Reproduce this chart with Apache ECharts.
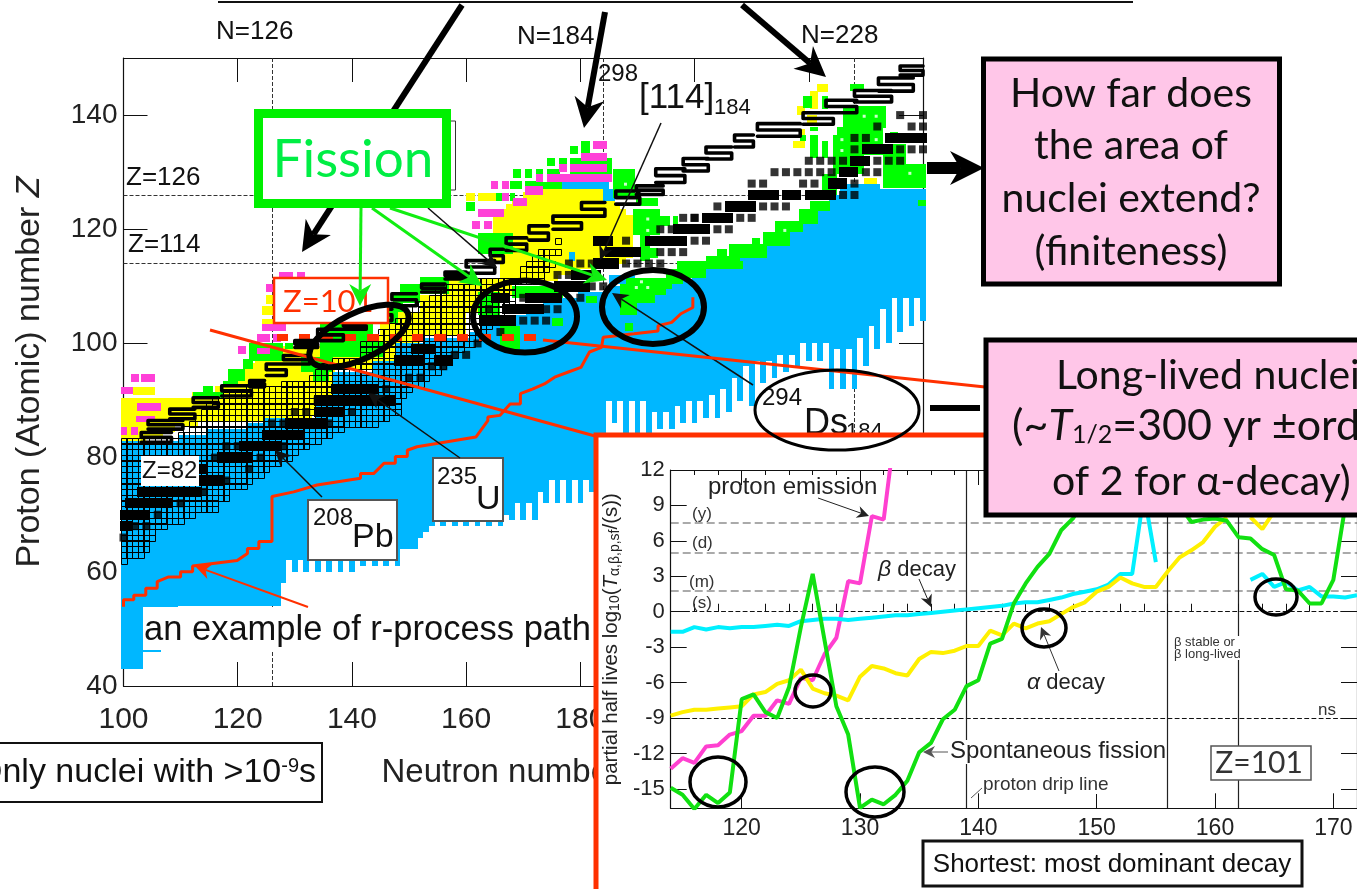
<!DOCTYPE html>
<html>
<head>
<meta charset="utf-8">
<title>Nuclear chart</title>
<style>
html, body { margin: 0; padding: 0; background: #fff; overflow: hidden; }
#chart { width: 1357px; height: 889px; }
</style>
<script src="https://cdn.jsdelivr.net/npm/echarts@6/dist/echarts.min.js"></script>
</head>
<body>
<div id="chart"></div>
<script>
// main chart: blue columns, one value per N from 100 to 240
var blueStartN = 100
var blueLow = [
  43, 43, 43, 43, 46, 46, 46, 48, 50, 52,
  54, 54, 54, 54, 54, 54, 54, 54, 54, 54,
  54, 54, 54, 54, 54, 54, 54, 54, 58, 62,
  60, 62, 60, 62, 60, 62, 60, 62, 60, 62,
  60, 62, 61, 62, 61, 63, 61, 63, 61, 64,
  64, 64, 66, 67, 68, 70, 68, 70, 68, 70,
  68, 70, 68, 70, 68, 70, 68, 70, 69, 72,
  69, 72, 69, 74, 72, 76, 72, 76, 72, 76,
  72, 76, 74, 78, 78, 90, 86, 90, 80, 90,
  80, 90, 84, 88, 85, 88, 85, 89, 86, 90,
  86, 90, 87, 91, 87, 92, 88, 94, 90, 96,
  89, 97, 93, 97, 94, 98, 95, 98, 96, 100,
  97, 100, 97, 100, 92, 99, 92, 99, 92, 101,
  96, 103, 99, 106, 100, 108, 102, 108, 103, 108,
  104
]
var blueTop = [
  83, 83, 83, 83, 83, 83, 83, 83, 83, 83,
  84, 84, 84, 84, 84, 85, 85, 85, 85, 85,
  85, 85, 86, 86, 86, 87, 87, 87, 87, 87,
  87, 87, 87, 87, 90, 90, 90, 95, 95, 95,
  95, 95, 95, 95, 97, 97, 97, 97, 100, 100,
  100, 100, 100, 101, 101, 101, 101, 101, 101, 101,
  101, 102, 102, 103, 103, 104, 104, 104, 105, 105,
  105, 106, 106, 106, 107, 107, 107, 108, 108, 108,
  109, 109, 109, 109, 109, 110, 110, 110, 110, 110,
  110, 110, 110, 110, 110, 110, 111, 111, 111, 111,
  112, 112, 113, 113, 114, 114, 115, 115, 116, 116,
  116, 117, 117, 118, 118, 119, 119, 120, 120, 121,
  122, 123, 124, 125, 126, 126, 127, 128, 128, 128,
  128, 128, 128, 127, 127, 127, 127, 127, 127, 127,
  127
]
// coloured patches as [N from, N to, Z from, Z to]
var bluePatches = [[176, 185, 127, 128.4], [184, 186, 125, 127], [178, 179, 114.5, 116], [185, 189.5, 110.5, 112]]
var yellowPatches = [
  [99.5, 104, 82.5, 83.5], [99.5, 107, 83.5, 84.5], [99.5, 109, 84.5, 85.5], [99.5, 113, 85.5, 86.5],
  [99.5, 133, 86.5, 87.5], [99.5, 134, 87.5, 88.5], [99.5, 134, 88.5, 89.5], [99.5, 136, 89.5, 90.5],
  [112, 137, 90.5, 91.5], [101.7, 105.5, 91, 92.4], [116, 137, 91.5, 92.5], [118, 137, 92.5, 93.5],
  [120, 137, 93.5, 94.5], [121, 137, 94.5, 95.5], [122, 148, 95.5, 96.5], [123, 148, 96.5, 97.5],
  [124, 148, 97.5, 98.5], [128, 148, 98.5, 99.5], [140, 152, 99.5, 101.5], [145, 160, 101.5, 105.5],
  [152, 166, 105.5, 108.5], [156, 168, 108.5, 111.5],
  [124.3, 126.2, 105, 106.6], [124.3, 126.2, 103.4, 104.3], [125, 126.2, 106.9, 108.4],
  [172, 184, 126.5, 127.5], [170, 185, 125.5, 126.5], [168, 186, 124.5, 125.5], [167, 187, 123.5, 124.5],
  [166, 188, 122.5, 123.5], [164.7, 189.3, 115, 122.5], [164.7, 188, 114, 115], [166, 186, 113, 114],
  [166, 180, 112, 113], [166, 176, 111, 112], [160, 161.5, 125, 126.4], [162.1, 165.2, 125, 126.4],
  [221.4, 223.4, 144, 145.4], [220.2, 221.7, 141, 144.2], [218, 219.4, 140.1, 141.6], [219.6, 221.4, 138.7, 140],
  [217.3, 219.4, 134.2, 135.5], [218.5, 219.4, 136.6, 137.5], [229.6, 232, 127.6, 129], [228.7, 229.9, 138.4, 139.5]
]
var greenPatches = [
  [195, 202, 111.5, 113], [197, 208.5, 113, 114.5], [202, 208, 114.5, 115.4], [204, 205.6, 115, 116.5],
  [206, 212.6, 115, 117.4], [210, 211.5, 117, 118.5], [212, 216.7, 117, 119.6], [214, 219, 119.6, 121.5],
  [218.2, 221.7, 121, 123.5], [220.2, 223.7, 123.2, 125],
  [227.2, 229.6, 144.2, 145.4], [219, 220.5, 141.3, 143.3], [222.3, 223.4, 141, 143.3], [226, 233.6, 137.8, 141.6],
  [220.2, 221.7, 137.2, 138], [220.2, 221.7, 132.5, 136.6], [222.3, 223.4, 132.5, 135.4], [224.3, 229.6, 129.6, 136.6],
  [218.5, 219.5, 135.5, 136.5], [234.2, 235.7, 136, 137], [233, 237, 129.6, 135], [237, 240.6, 127.3, 131.4],
  [233, 237, 127.3, 129.6], [239.2, 240.6, 124, 125.2], [222.3, 224.9, 126, 129.6], [225, 233, 133, 138],
  [178.2, 179.6, 133.1, 134.6], [180.2, 181.7, 133.4, 135.5], [174.2, 175.5, 131, 132.4], [176.3, 177.7, 131.4, 132.4],
  [178.2, 185.5, 129.6, 132.4], [168.2, 169.6, 129, 130.5], [170.3, 171.6, 129, 130.5], [172.2, 173.5, 129.6, 130.5],
  [174.2, 176.4, 129.6, 130.5], [167.7, 169.7, 127.1, 128.5], [170.3, 173.5, 127.5, 128.5], [173.5, 176.7, 127.1, 128.2],
  [185.8, 189.6, 125.5, 130.5], [165.2, 166.2, 125, 126.4], [167.7, 168.5, 125, 126.4], [160, 161.5, 123.2, 124.7],
  [162, 168.2, 115.6, 119.4], [189.8, 193.6, 124.1, 125.5], [189.3, 194, 119, 123.5], [193.9, 195.7, 120.6, 122.3],
  [196.3, 197.1, 121, 122.3], [190.4, 192.2, 114.5, 119], [192.2, 193.6, 115, 116.8],
  [188, 198, 110.5, 111.5], [187, 196, 109.5, 110.5], [187, 195, 108.5, 109.5], [187, 193, 107, 108.5],
  [187, 190, 105, 107], [187.8, 189.2, 102.2, 103.6],
  [162, 166, 105, 109], [168, 177, 108, 110], [166, 169.5, 99, 103], [175, 177, 103, 104.5], [181, 183, 107, 108.3],
  [152, 157, 110.5, 111.6], [148.4, 157, 108.7, 110.5], [147.2, 152, 107, 109], [146, 149, 105.5, 107], [144, 148, 103.5, 105.5],
  [134.4, 143.7, 97.6, 103.4], [141, 145.5, 97.6, 100.5], [128.2, 129.7, 99, 100], [131, 136.7, 95, 97.6],
  [133.2, 136, 93.2, 95], [122, 128, 97, 100], [121, 122.7, 95.5, 97.2], [118.3, 121.2, 93.5, 95.5],
  [114, 115.7, 91.5, 92.5], [112.2, 117.4, 90.5, 91.5], [117.4, 120, 92.4, 93.5]
]
var pinkPatches = [
  [182.2, 184.6, 134, 135.5], [180.2, 184.6, 132, 133.4], [176.3, 177.7, 130, 131.4], [178.2, 184.6, 130, 131.4],
  [174.2, 185.5, 128.2, 129.6], [172.2, 173.5, 128.2, 129.6], [164.3, 165.6, 127.1, 128.5], [166.2, 167.5, 127.1, 128.5],
  [170.3, 173.5, 126, 127.5], [166.2, 167.5, 125, 126.4], [168.2, 170.6, 124, 125.4], [162.1, 166.6, 122.2, 123.5],
  [161.1, 162.5, 120, 121.5], [163.2, 164.6, 120, 121.5],
  [127.2, 129.7, 111.6, 112.5], [130.3, 131.7, 111.6, 112.5], [125, 126.2, 109, 110.4], [124.3, 128.5, 102.2, 103.4],
  [123.3, 125.6, 100.2, 101.6], [126.2, 127.6, 100.2, 101.6], [123.3, 125.6, 98.2, 99.2], [120, 121.5, 98.1, 99.6],
  [101.4, 102.7, 93.2, 94.6], [103.1, 105.5, 93.2, 94.6], [99.5, 101.7, 91.1, 92.4], [102.3, 106.6, 88.1, 89.5],
  [102.2, 105.5, 86.2, 87.3], [99.5, 100.6, 84, 85.4], [101.4, 102.6, 84, 85.4]
]
// black squares: runs as [Z, N from, N to], single squares as [N, Z]
var magicRuns = [
  [136, 234, 240], [134, 230, 234], [132, 228, 230], [130, 226, 228], [128, 224, 226], [126, 222, 224],
  [126, 220, 221], [126, 216, 218], [126, 210, 214], [124, 206, 210],
  [122, 202, 206], [120, 197, 202], [118, 192, 198], [118, 183, 185], [116, 185, 190], [114, 183, 186],
  [112, 179, 183], [110, 176, 181], [108, 171, 176], [106, 167, 173],
  [108, 165, 167], [104, 163, 168], [97, 148, 152], [97, 155, 157], [99, 151, 154], [92, 137, 144], [90, 134, 137], [90, 142, 147],
  [68, 100, 101], [70, 100, 104], [72, 101, 108], [74, 103, 113], [76, 113, 117], [78, 113, 114], [80, 117, 122],
  [82, 121, 127], [84, 125, 131], [86, 129, 135], [88, 134, 138], [90, 138, 144]
]
var stableDots = [
  [236, 140], [240, 140], [240, 138], [232, 138], [238, 138], [228, 136], [230, 136], [228, 134], [236, 134], [238, 134], [240, 134],
  [220, 132], [222, 132], [224, 132], [226, 132], [232, 132], [234, 132], [236, 132], [214, 130], [216, 130], [218, 130],
  [220, 130], [222, 130], [224, 130], [230, 130], [232, 130], [210, 128], [212, 128], [219, 128], [221, 128], [228, 128], [226, 126],
  [228, 126], [212, 124], [214, 124], [216, 124], [204, 124], [208, 122], [210, 122], [200, 122], [204, 120], [206, 120],
  [200, 118], [202, 118], [198, 122], [200, 122], [194, 120], [196, 120], [194, 116], [196, 116], [198, 116], [188, 118],
  [188, 114], [190, 114], [192, 114], [194, 114], [176, 112], [178, 112], [180, 114], [182, 114], [178, 114], [182, 110],
  [184, 110], [180, 108], [174, 106], [176, 106], [170, 104], [172, 104], [174, 104], [166, 102], [164, 106],
  [170, 108], [160, 98], [158, 98], [162, 100], [156, 96], [154, 96], [152, 94], [150, 94],
  [100, 66], [102, 68], [104, 68], [106, 70], [102, 72], [110, 72], [104, 74], [106, 74], [114, 74], [118, 76], [114, 78],
  [122, 78], [116, 80], [124, 80], [118, 82], [120, 82], [128, 82], [126, 86], [128, 86], [136, 86], [130, 88], [132, 88],
  [138, 88], [140, 88], [134, 90], [142, 90], [138, 92], [146, 92]
]
var whiteDots = [
  [229.7, 139.8], [231.8, 139.8], [225.8, 135.7], [231.8, 135.7], [225.8, 133.8], [215.8, 119.8], [237.7, 129.8],
  [187.9, 127.9], [191.8, 121.8], [191.8, 119.8], [190.7, 110.8], [189.8, 109.8], [191.8, 109.8]
]
// open cells as [Z, N from, N to]
var openRows = [
  [62, 100, 100], [63, 100, 103], [64, 100, 104], [65, 100, 104], [66, 100, 105], [67, 100, 105], [68, 100, 107], [69, 100, 110],
  [70, 100, 112], [71, 100, 116], [72, 100, 116], [73, 100, 118], [74, 100, 118], [75, 100, 121], [76, 100, 122], [77, 100, 124],
  [78, 100, 125], [79, 100, 127], [80, 100, 129], [81, 100, 130], [82, 100, 132], [83, 100, 134], [84, 110, 136], [85, 111, 138],
  [86, 112, 144], [87, 113, 146], [88, 114, 148], [89, 115, 148], [90, 116, 148], [91, 118, 149], [92, 122, 150], [93, 128, 152],
  [94, 133, 153], [95, 134, 155], [96, 135, 156], [97, 137, 157], [98, 142, 158], [99, 142, 159], [100, 142, 161], [101, 144, 162],
  [102, 145, 163], [103, 147, 164], [104, 148, 165], [105, 150, 166], [106, 151, 167], [107, 152, 168], [108, 154, 168],
  [109, 155, 168], [110, 157, 168], [111, 161, 168], [118, 176, 176], [116, 173, 176], [115, 172, 174], [114, 171, 175],
  [113, 170, 174], [112, 170, 173], [111, 169, 173]
]
// Z=101 isotope row, dash centres
var z101Dashes = [127.8, 131.7, 135.6, 139.7, 143.7, 147.7, 151.5, 155.4, 159.4, 163.3, 167.3, 171.2]
// proton drip line blocks [N from, N to, Z low, Z high]
var dripBlocks = [
  [103.1, 108.4, 82.7, 84.4], [104.3, 110.4, 85, 86.5], [108.1, 112.5, 86.8, 88.5], [112.2, 116.6, 88.8, 90.5],
  [117.2, 122.4, 90.8, 92.6], [122.1, 124.7, 92.4, 93.5], [125, 128.5, 94.4, 96.4], [128, 132.6, 96.4, 97.9],
  [130, 134, 99.3, 100.5], [134, 138.5, 100.5, 102.5], [138.5, 142.5, 102.5, 103.7], [142.5, 147, 104, 106],
  [147, 151.3, 106.6, 108.7], [152.2, 156.3, 109, 110.4], [156.3, 160, 111.3, 112.5], [160, 165, 112.3, 114.5],
  [164.2, 166.5, 114.2, 116.5], [167, 170.6, 116.3, 118.5], [171, 174.4, 118.1, 120.6], [175.2, 180.2, 120, 122.3],
  [180.2, 184.3, 122.3, 124.7], [186.2, 190.4, 124.4, 126.7], [189.8, 194.5, 126.1, 127.6], [193.2, 198.3, 128.2, 130.6],
  [198, 202.4, 130.2, 132.4], [202, 206.5, 132.3, 134.4], [207, 210.3, 134.4, 136.5], [211, 218.5, 136.3, 138.5],
  [219, 224.3, 138.4, 140.4], [223, 228.4, 140.4, 142.6], [228, 234.5, 142.3, 144.3], [232.2, 238.3, 144.2, 146.5],
  [236, 240, 147, 148.6]
]
// r-process path
var rPathN = [100, 100, 101.8, 101.8, 103.9, 103.9, 105.9, 105.9, 107.9, 110, 110, 112.1, 112.1, 119.9, 121.7, 121.7, 123.7, 123.7, 126, 126,
  129.8, 133.9, 141.5, 141.5, 143.8, 145.6, 147.6, 147.6, 149.7, 149.7, 151.4, 161.7, 163.8, 163.8, 165.9, 167.7, 169.5, 169.5, 171.6,
  173.7, 175.5, 177.9, 180.1, 181.6, 183.7, 184, 189.4, 193.6, 193.6, 196, 197.6, 199.7, 199.7]
var rPathZ = [53.9, 55.1, 55.1, 55.9, 55.9, 57.1, 57.1, 58.3, 59.1, 59.1, 60, 60, 61, 62, 63.2, 64.1, 64.1, 65.3, 65.3, 73.2,
  74, 75.2, 76.4, 77.2, 77.2, 79, 79, 80.2, 80.2, 81.3, 81.9, 83.6, 86.5, 87.1, 87.4, 89.4, 89.4, 91.2, 92,
  92.9, 94.1, 95, 95.8, 98.5, 99.3, 101.1, 101.7, 102.2, 103.1, 103.7, 105.2, 106.3, 108.1]
var magicN = [126, 184, 228]
var magicZ = [114, 126]

// inset: half lives for Z=101
var insetN = [114, 115, 116, 117, 118, 119, 120, 121, 122, 123, 124, 125, 126, 127, 128, 129, 130, 131, 132, 133, 134, 135, 136, 137,
  138, 139, 140, 141, 142, 143, 144, 145, 146, 147, 148, 149, 150, 151, 152, 153, 154, 155, 156, 157, 158, 159, 160, 161, 162, 163,
  164, 165, 166, 167, 168, 169, 170, 171, 172]
var fissionLife = [-14.9, -15.5, -16.7, -15.5, -16.2, -15.3, -7.4, -7, -8.5, -9,
  -6.4, -1.3, 3.2, -2.4, -8, -10.4, -16.6, -15.9, -16.3, -15.5,
  -14.3, -11.9, -11.1, -9.1, -8.3, -6.3, -5.8, -2.7, -2.3, 0.7,
  2.4, 3.8, 4.9, 6.9, 7.9, 9.5, null, null, null, null,
  null, null, null, 9, 7.6, 7.8, 7.9, 7.7, 6.3, 6.2,
  5.3, 4.8, 1.9, 1.8, 0.7, 0.7, 2.7, 8.9, 12]
var alphaLife = [-8.8, -8.5, -8.3, -8.3, -8.2, -8.1, -8, -7, -6.8, -6.1,
  -5.8, -4.9, -6.5, -6.9, -7.1, -7.5, -5.5, -4.6, -4.8, -5.2,
  -5.4, -4, -3.4, -3.5, -3.3, -2.9, -2.9, -1.6, -2, -1,
  -1.4, -1, -0.8, -0.2, 0.4, 0.8, 1.7, 2.1, 2.9, 2.4,
  2.1, 2.1, 3.4, 4.6, 5.2, 5.9, 7.2, 8, null, 8,
  7, 8.5, null, null, null, null, null, null, null]
var betaLife = [-1.7, -1.7, -1.3, -1.5, -1.3, -1.4, -1.3, -1.3, -1.2, -1.1,
  -1.2, -0.8, -0.7, -0.6, -0.6, -0.7, -0.6, -0.5, -0.4, -0.3,
  -0.3, -0.2, -0.1, 0, 0.1, 0.2, 0.3, 0.4, 0.5, 0.7,
  0.8, 0.8, 1, 1.2, 1.5, 1.7, 1.9, 2.3, 3.2, 3.2,
  10, 4.2, null, null, null, null, null, null, null, 2.7,
  3.2, 2.1, 2.5, 1.8, 2.1, 1.3, 1.3, 1.2, 1.4]
var protonLife = [-13.3, -12.4, -12.8, -11.4, -11.3, -10.4, -10.1, -8.8, -8.8, -7.5,
  -7.8, -5.6, -5.8, -3.6, -2.2, 2.6, 2.4, 8.1, 7.8, 15.8]
var insetYTicks = [-15, -12, -9, -6, -3, 0, 3, 6, 9, 12]
var insetXMajor = [120, 130, 140, 150, 160, 170]
var insetXMinor = [116, 118, 122, 124, 126, 128, 132, 134, 136, 138, 142, 144, 146, 148, 152, 154, 156, 158, 162, 164, 166, 168, 172]
var timeLines = [7.5, 5, 1.8]
var zeroLines = [0, -9]
var boundaryN = [139, 156, 162]

var SANS = '"Liberation Sans", Arial, sans-serif'
var SLIDE = 'Lato, "Open Sans", sans-serif'

function pairs(xs, ys) {
  return ys.map(function (y, i) { return [xs[i], y] })
}

function patchSeries(name, rects, color, z) {
  return {
    name: name, type: 'custom', z: z, xAxisIndex: 0, yAxisIndex: 0, clip: false, silent: true,
    encode: { x: [0, 1], y: [2, 3] },
    data: rects,
    renderItem: function (params, api) {
      var a = api.coord([api.value(0), api.value(3)])
      var b = api.coord([api.value(1), api.value(2)])
      var x = Math.round(a[0]), y = Math.round(a[1])
      return {
        type: 'rect',
        shape: { x: x, y: y, width: Math.round(b[0]) - x, height: Math.round(b[1]) - y },
        style: { fill: color }
      }
    }
  }
}

function openCellSeries() {
  var cells = []
  openRows.forEach(function (r) {
    for (var n = r[1]; n <= r[2]; n++) cells.push([n, r[0]])
  })
  return {
    name: 'open cells', type: 'custom', z: 7, xAxisIndex: 0, yAxisIndex: 0, clip: false, silent: true,
    encode: { x: 0, y: 1 },
    data: cells,
    renderItem: function (params, api) {
      var a = api.coord([api.value(0) - 0.5, api.value(1) + 0.5])
      var b = api.coord([api.value(0) + 0.5, api.value(1) - 0.5])
      return {
        type: 'rect',
        shape: { x: Math.round(a[0]) + 0.5, y: Math.round(a[1]) + 0.5, width: Math.round(b[0] - a[0]), height: Math.round(b[1] - a[1]) },
        style: { fill: 'none', stroke: '#000', lineWidth: 1 }
      }
    }
  }
}

function dripPoints() {
  var pts = []
  dripBlocks.forEach(function (b) {
    var mid = (b[2] + b[3]) / 2
    pts.push([b[0], b[2]], [b[1], b[2]], [b[1], mid], [b[0], mid], [b[0], b[3]], [b[1], b[3]], [null, null])
  })
  return pts
}

function insetLine(name, values, color, z) {
  return {
    name: name, type: 'line', xAxisIndex: 2, yAxisIndex: 2, z: z, showSymbol: false, silent: true,
    lineStyle: { color: color, width: 4 },
    data: pairs(insetN, values)
  }
}

function refLines(name, xi, yi, list, key, style, z) {
  return {
    name: name, type: 'line', xAxisIndex: xi, yAxisIndex: yi, z: z, data: [], silent: true,
    markLine: {
      silent: true, symbol: 'none', label: { show: false }, animation: false, z: z,
      lineStyle: style,
      data: list.map(function (v) { var o = {}; o[key] = v; return o })
    }
  }
}

// annotation helpers, all pixel positions on the page
function text(str, x, y, size, z, o) {
  o = o || {}
  return {
    type: 'text', z: z, silent: true, rotation: o.rotation || 0, x: x, y: y,
    style: {
      text: str, fill: o.fill || '#111', font: (o.italic ? 'italic ' : '') + size + 'px ' + (o.family || SANS),
      textAlign: o.align || 'left', textVerticalAlign: 'middle', rich: o.rich
    }
  }
}
function box(x, y, w, h, z, fill, stroke, lw) {
  return { type: 'rect', z: z, silent: true, shape: { x: x, y: y, width: w, height: h }, style: { fill: fill || 'none', stroke: stroke || 'none', lineWidth: lw || 0 } }
}
function seg(x1, y1, x2, y2, color, lw, z) {
  return { type: 'line', z: z, silent: true, shape: { x1: x1, y1: y1, x2: x2, y2: y2 }, style: { stroke: color, lineWidth: lw } }
}
function arrow(x1, y1, x2, y2, color, lw, z, head) {
  var a = Math.atan2(y2 - y1, x2 - x1), h = head || 14, w = h * 0.5
  var bx = x2 - h * Math.cos(a), by = y2 - h * Math.sin(a)
  var nx = x2 - h * 0.7 * Math.cos(a), ny = y2 - h * 0.7 * Math.sin(a)
  return [
    seg(x1, y1, nx, ny, color, lw, z),
    {
      type: 'polygon', z: z, silent: true,
      shape: { points: [[x2, y2], [bx - w * Math.sin(a), by + w * Math.cos(a)], [nx, ny], [bx + w * Math.sin(a), by - w * Math.cos(a)]] },
      style: { fill: color }
    }
  ]
}
function ring(cx, cy, rx, ry, rot, lw, z) {
  return { type: 'ellipse', z: z, silent: true, x: cx, y: cy, rotation: rot, shape: { cx: 0, cy: 0, rx: rx, ry: ry }, style: { fill: 'none', stroke: '#000', lineWidth: lw } }
}

var LOW = 10, PANEL = 20, TOP = 30
var annotations = [].concat(
  [seg(218, 2, 1133, 2, '#111', 2, LOW)],
  [text('N=126', 216, 32, 26, LOW), text('N=184', 517, 37, 26, LOW), text('N=228', 801, 36, 26, LOW)],
  [text('Z=126', 126, 178, 26, LOW), text('Z=114', 128, 245, 26, LOW)],
  [box(141, 456, 58, 30, LOW, '#fff'), text('Z=82', 142, 471, 24, LOW)],
  arrow(462, 5, 302, 252, '#000', 6, LOW, 30),
  arrow(605, 12, 584, 128, '#000', 6, LOW, 30),
  arrow(742, 5, 826, 77, '#000', 6, LOW, 30),
  [box(441, 121, 14.5, 69, LOW, '#fff', '#333', 1)],
  [box(258.5, 113.5, 188, 90, LOW + 2, '#fff', '#00F000', 9)],
  [text('Fission', 353, 160, 53, LOW + 2, { family: SLIDE, fill: '#00EE44', align: 'center' })],
  [box(274, 278, 114, 45, LOW, '#fff', '#FF3000', 2.5)],
  [text('Z=101', 283, 302, 31, LOW, { family: SLIDE, fill: '#FF3000' })],
  arrow(361, 208, 360, 306, '#11EE11', 3, LOW + 1, 22),
  arrow(372, 208, 482, 286, '#11EE11', 3, LOW + 1, 22),
  arrow(390, 208, 607, 280, '#11EE11', 3, LOW + 1, 22),
  arrow(428, 208, 497, 268, '#111', 1.5, LOW + 1, 16),
  arrow(661, 123, 600, 260, '#111', 1.5, LOW + 1, 14),
  arrow(753, 385, 612, 293, '#111', 1.5, LOW + 1, 16),
  arrow(322, 497, 275, 450, '#111', 1.5, LOW + 1, 16),
  arrow(460, 458, 368, 393, '#111', 1.5, LOW + 1, 16),
  arrow(308, 607, 195, 566, '#FF3000', 2, LOW + 1, 16),
  [seg(210, 330, 595, 436, '#FF3000', 3, LOW + 1), seg(543, 340, 985, 387, '#FF3000', 3, LOW + 1)],
  [ring(359, 336, 54, 23, 0.45, 6, LOW + 2), ring(525, 316.5, 52, 36, 0, 6, LOW + 2), ring(653, 307, 51, 37, 0, 6, LOW + 2)],
  [box(308, 500, 89, 60, LOW, '#fff', '#555', 2), text('208', 313, 518, 24, LOW), text('Pb', 352, 538, 34, LOW)],
  [box(433, 458, 70, 63, LOW, '#fff', '#555', 2), text('235', 437, 477, 24, LOW), text('U', 476, 500, 34, LOW)],
  [box(143, 607, 447, 43, LOW, '#fff'), text('an example of r-process path', 144, 630, 34.5, LOW)],
  [box(-3, 743, 325, 59, LOW, '#fff', '#111', 2)],
  [text('{a|Only nuclei with >10}{b|-9}{a|s}', 316, 773, 34, LOW, {
    align: 'right',
    rich: {
      a: { font: '34px ' + SANS, fill: '#111' },
      b: { font: '20px ' + SANS, fill: '#111', verticalAlign: 'top', padding: [0, 0, 10, 0] }
    }
  })],
  [text('298', 598, 74, 24, LOW), text('[114]', 639, 98, 35, LOW), text('184', 714, 108, 22, LOW)],
  [text('294', 762, 398, 24, LOW), text('Ds', 804, 424, 36, LOW), text('184', 846, 432, 22, LOW)],
  arrow(927, 168, 984, 168, '#000', 12, LOW, 34),
  [seg(930, 408, 980, 408, '#000', 6, LOW)],

  // inset panel
  [box(596, 435, 780, 470, PANEL, '#fff', '#FF3000', 5)],
  [ring(837, 410, 82, 40, 0, 3, TOP)],
  [text('proton emission', 708, 487, 24, TOP, { fill: '#222' })],
  arrow(818, 498, 869, 516, '#222', 1, TOP, 12),
  [text('{i|β} decay', 878, 570, 22, TOP, { fill: '#222', rich: { i: { font: 'italic 23px ' + SANS, fill: '#222' } } })],
  arrow(919, 579, 931, 607, '#222', 1, TOP, 12),
  [text('{i|α} decay', 1027, 683, 22, TOP, { fill: '#222', rich: { i: { font: 'italic 23px ' + SANS, fill: '#222' } } })],
  arrow(1059, 671, 1041, 627, '#333', 1, TOP, 12),
  [box(950, 740, 214, 24, PANEL + 3, '#fff'), text('Spontaneous fission', 950, 751, 24, TOP, { fill: '#222' })],
  arrow(948, 752, 923, 752, '#555', 1, TOP, 12),
  [box(983, 776, 126, 18, PANEL + 3, '#fff'), text('proton drip line', 983, 785, 19, TOP, { fill: '#333' })],
  [seg(982, 788, 971, 798, '#555', 1, TOP)],
  [box(1173, 636, 68, 24, PANEL + 3, '#fff')],
  [text('β stable or', 1174, 642, 13, TOP, { fill: '#333' }), text('β long-lived', 1174, 654, 13, TOP, { fill: '#333' })],
  [text('ns', 1318, 710, 17, TOP, { fill: '#333' })],
  [text('(y)', 692, 514, 17, TOP, { fill: '#333' }), text('(d)', 692, 543, 17, TOP, { fill: '#333' }),
    text('(m)', 689, 582, 17, TOP, { fill: '#333' }), text('(s)', 692, 603, 17, TOP, { fill: '#333' })],
  [ring(718, 782, 28, 25, 0, 3.5, TOP), ring(813, 691, 18, 16, 0, 3.5, TOP), ring(875, 792, 29, 25, 0, 3.5, TOP),
    ring(1044, 628, 22, 19, 0, 3.5, TOP), ring(1276, 597, 21, 18, 0, 3.5, TOP)],
  [box(1211, 746, 100, 34, TOP, '#fff', '#555', 1.5), text('Z=101', 1259, 763, 30, TOP, { family: SLIDE, align: 'center', fill: '#333' })],
  [box(923, 841, 379, 45, TOP, '#fff', '#111', 3), text('Shortest: most dominant decay', 1112, 865, 26, TOP, { align: 'center' })],

  // pink question boxes
  [box(983.5, 59, 296, 225, TOP, '#FFC6E8', '#000', 5)],
  [text('How far does', 1131, 94, 41, TOP, { family: SLIDE, align: 'center' }),
    text('the area of', 1131, 146, 41, TOP, { family: SLIDE, align: 'center' }),
    text('nuclei extend?', 1131, 199, 41, TOP, { family: SLIDE, align: 'center' }),
    text('(finiteness)', 1131, 252, 41, TOP, { family: SLIDE, align: 'center' })],
  [box(986, 340, 380, 175, TOP, '#FFC6E8', '#000', 5)],
  [text('Long-lived nuclei', 1056, 376, 41, TOP, { family: SLIDE })],
  [text('{a|(~}{i|T}{s|1/2}{a|=300 yr ±order}', 1012, 426, 43, TOP, {
    family: SLIDE,
    rich: {
      a: { font: '43px ' + SLIDE, fill: '#111' },
      i: { font: 'italic 43px ' + SLIDE, fill: '#111' },
      s: { font: '25px ' + SLIDE, fill: '#111', verticalAlign: 'bottom' }
    }
  })],
  [text('of 2 for α-decay)', 1052, 482, 41, TOP, { family: SLIDE })]
)

var chart = echarts.init(document.getElementById('chart'))
var axisLine = { show: true, onZero: false, lineStyle: { color: '#111', width: 1.2 } }
var option = {
  animation: false,
  backgroundColor: '#fff',
  textStyle: { fontFamily: SANS },
  grid: [
    { left: 123.5, top: 58, width: 799.5, height: 628, containLabel: false },
    { left: 670.7, top: 470, width: 688.3, height: 338.3, containLabel: false },
    { left: 670.7, top: 470, width: 688.3, height: 338.3, containLabel: false }
  ],
  xAxis: [
    {
      gridIndex: 0, type: 'value', min: 100, max: 240, interval: 20, position: 'bottom',
      axisLine: axisLine, splitLine: { show: false },
      axisTick: { inside: true, length: 24, lineStyle: { color: '#111' } },
      axisLabel: { fontSize: 30, color: '#222', margin: 19, fontFamily: SANS, showMaxLabel: true },
      name: 'Neutron number N', nameLocation: 'middle', nameGap: 70,
      nameTextStyle: { fontSize: 33, color: '#222', fontFamily: SANS, padding: [0, 12, 0, 0] }
    },
    {
      gridIndex: 0, type: 'value', min: 100, max: 240, interval: 20, position: 'top',
      axisLine: axisLine, splitLine: { show: false },
      axisTick: { inside: true, length: 24, lineStyle: { color: '#111' } },
      axisLabel: { show: false }
    },
    {
      gridIndex: 1, type: 'value', min: 114, max: 172, position: 'bottom', z: PANEL + 1,
      axisLine: axisLine, splitLine: { show: false },
      axisTick: { inside: true, length: 15, customValues: insetXMajor, lineStyle: { color: '#111' } },
      axisLabel: { fontSize: 23, color: '#222', margin: 9, customValues: insetXMajor, fontFamily: SANS }
    },
    {
      gridIndex: 1, type: 'value', min: 114, max: 172, position: 'top', z: PANEL + 1,
      axisLine: axisLine, splitLine: { show: false },
      axisTick: { inside: true, length: 5, customValues: insetXMinor, lineStyle: { color: '#111' } },
      axisLabel: { show: false }
    },
    {
      gridIndex: 2, type: 'value', min: 114, max: 172, position: 'bottom', z: PANEL + 1,
      axisLine: { show: false }, splitLine: { show: false },
      axisTick: { inside: true, length: 8, customValues: insetXMinor, lineStyle: { color: '#111' } },
      axisLabel: { show: false }
    },
    {
      gridIndex: 2, type: 'value', min: 114, max: 172, position: 'top', z: PANEL + 1,
      axisLine: { show: false }, splitLine: { show: false },
      axisTick: { inside: true, length: 15, customValues: insetXMajor, lineStyle: { color: '#111' } },
      axisLabel: { show: false }
    }
  ],
  yAxis: [
    {
      gridIndex: 0, type: 'value', min: 40, max: 150, interval: 20, position: 'left',
      axisLine: axisLine, splitLine: { show: false },
      axisTick: { inside: true, length: 24, lineStyle: { color: '#111' } },
      axisLabel: { fontSize: 28, color: '#222', margin: 6, fontFamily: SANS, showMaxLabel: false },
      name: 'Proton (Atomic) number {i|Z}', nameLocation: 'middle', nameGap: 77, nameRotate: 90,
      nameTextStyle: { fontSize: 34, color: '#222', fontFamily: SANS, rich: { i: { fontStyle: 'italic', fontSize: 34, color: '#222', fontFamily: SANS } } }
    },
    {
      gridIndex: 0, type: 'value', min: 40, max: 150, interval: 20, position: 'right',
      axisLine: axisLine, splitLine: { show: false },
      axisTick: { inside: true, length: 24, lineStyle: { color: '#111' } },
      axisLabel: { show: false }
    },
    {
      gridIndex: 1, type: 'value', min: -16.64, max: 12, position: 'left', z: PANEL + 1,
      axisLine: axisLine, splitLine: { show: false },
      axisTick: { inside: true, length: 16, customValues: insetYTicks, lineStyle: { color: '#111' } },
      axisLabel: { fontSize: 22, color: '#222', margin: 6, customValues: insetYTicks, fontFamily: SANS },
      name: 'partial half lives log{s|10}({i|T}{s|α,β,p,sf}/(s))', nameLocation: 'middle', nameGap: 47, nameRotate: 90,
      nameTextStyle: {
        fontSize: 20.5, color: '#222', fontFamily: SANS,
        rich: {
          s: { fontSize: 14, color: '#222', fontFamily: SANS, verticalAlign: 'bottom' },
          i: { fontSize: 20.5, fontStyle: 'italic', color: '#222', fontFamily: SANS }
        }
      }
    },
    {
      gridIndex: 1, type: 'value', min: -16.64, max: 12, position: 'right', z: PANEL + 1,
      axisLine: axisLine, splitLine: { show: false },
      axisTick: { inside: true, length: 16, customValues: insetYTicks, lineStyle: { color: '#111' } },
      axisLabel: { show: false }
    },
    { gridIndex: 2, type: 'value', min: -16.64, max: 12, show: false }
  ],
  series: [
    refLines('magic N', 0, 0, magicN, 'xAxis', { color: '#333', type: 'dashed', width: 1 }, 1),
    refLines('magic Z', 0, 0, magicZ, 'yAxis', { color: '#333', type: 'dashed', width: 1 }, 1),
    patchSeries('yellow', yellowPatches, '#FFFF00', 2),
    patchSeries('blue', blueLow.map(function (low, i) {
      var n = blueStartN + i
      return [n - 0.5, n + 0.5, low, blueTop[i]]
    }), '#00B7FF', 3),
    patchSeries('blue patches', bluePatches, '#00B7FF', 3),
    patchSeries('green', greenPatches, '#00FF00', 4),
    patchSeries('pink', pinkPatches, '#FF40D8', 5),
    openCellSeries(),
    patchSeries('stable runs', magicRuns.map(function (r) { return [r[1] - 0.7, r[2] + 0.7, r[0] - 0.9, r[0] + 0.9] }), '#000', 8),
    patchSeries('Z=101 row', z101Dashes.map(function (n) { return [n - 1, n + 1, 100.4, 101.6] }), '#FF3000', 8.5),
    {
      name: 'stable squares', type: 'scatter', xAxisIndex: 0, yAxisIndex: 0, z: 8, silent: true,
      symbol: 'rect', symbolSize: 8, itemStyle: { color: '#000' }, data: stableDots, clip: false
    },
    {
      name: 'white dots', type: 'scatter', xAxisIndex: 0, yAxisIndex: 0, z: 8, silent: true,
      symbol: 'rect', symbolSize: 3, itemStyle: { color: '#fff' }, data: whiteDots
    },
    {
      name: 'drip line', type: 'line', xAxisIndex: 0, yAxisIndex: 0, z: 9, showSymbol: false, silent: true, clip: false,
      lineStyle: { color: '#000', width: 3.6, join: 'round', cap: 'round' }, data: dripPoints()
    },
    {
      name: 'r-process path', type: 'line', xAxisIndex: 0, yAxisIndex: 0, z: 9, showSymbol: false, silent: true,
      lineStyle: { color: '#FF3000', width: 3 }, data: pairs(rPathN, rPathZ)
    },

    refLines('time marks', 2, 2, timeLines, 'yAxis', { color: '#AAA', type: 'dashed', width: 2 }, PANEL + 1),
    refLines('zero marks', 2, 2, zeroLines, 'yAxis', { color: '#111', type: 'dashed', width: 1.2 }, PANEL + 1),
    refLines('limits', 2, 2, boundaryN, 'xAxis', { color: '#222', type: 'solid', width: 1.2 }, PANEL + 1),
    insetLine('proton emission', protonLife, '#FF40D0', PANEL + 4),
    insetLine('beta decay', betaLife, '#00F0FF', PANEL + 5),
    insetLine('alpha decay', alphaLife, '#FFF000', PANEL + 6),
    insetLine('spontaneous fission', fissionLife, '#11E011', PANEL + 7)
  ],
  graphic: { elements: annotations }
}
chart.setOption(option)
</script>
</body>
</html>
